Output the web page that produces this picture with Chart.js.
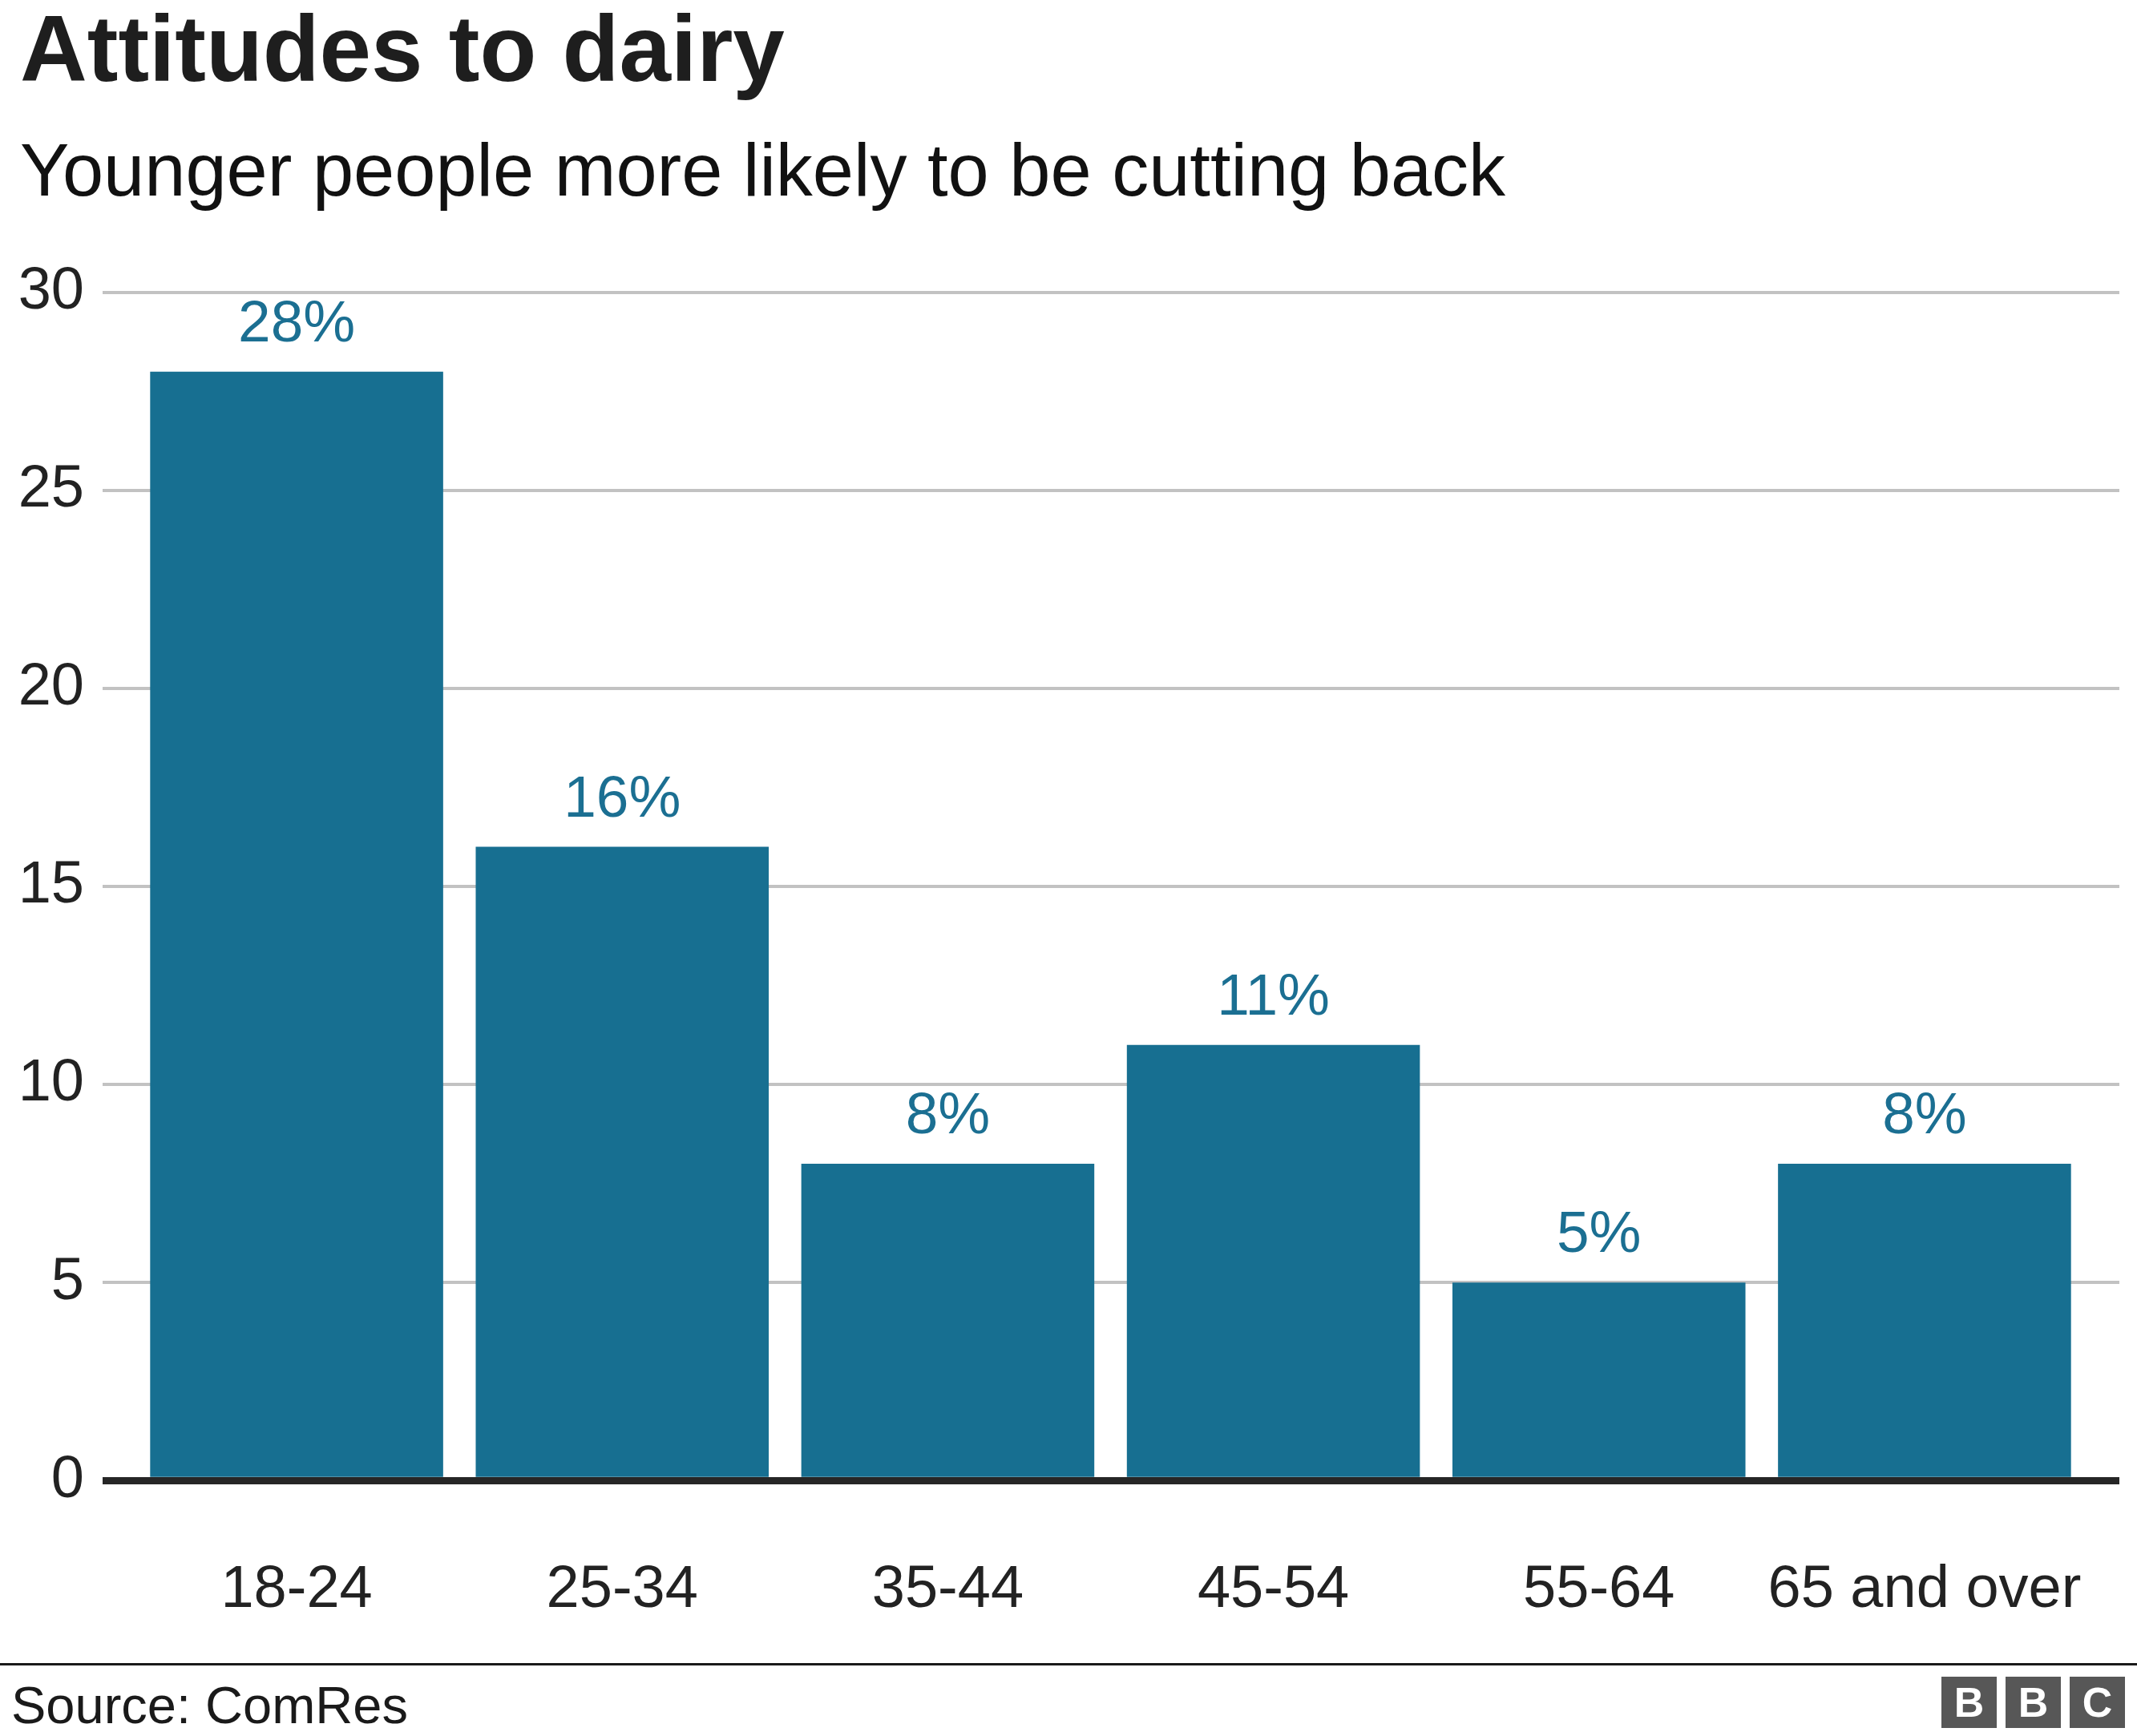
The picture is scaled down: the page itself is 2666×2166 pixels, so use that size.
<!DOCTYPE html>
<html>
<head>
<meta charset="utf-8">
<script src="https://cdn.jsdelivr.net/npm/chart.js@4.4.1/dist/chart.umd.min.js"></script>
<style>
  html, body { margin: 0; padding: 0; background: #ffffff; }
  #wrap { position: relative; width: 2666px; height: 2166px; overflow: hidden; }
  #wrap canvas { position: absolute; left: 0; top: 0; }
  #rule { position: absolute; left: 0; top: 2075px; width: 2666px; height: 3px; background: #1a1a1a; }
  #source { position: absolute; left: 14px; top: 2095px; font-family: "Liberation Sans", Arial, sans-serif; font-size: 65px; line-height: 1; color: #1a1a1a; white-space: nowrap; }
  .bbc { position: absolute; top: 2092px; width: 69px; height: 64px; background: #575757; color: #ffffff;
         font-family: "Liberation Sans", Arial, sans-serif; font-weight: bold; font-size: 52px; line-height: 64px; text-align: center; }
</style>
</head>
<body>
<div id="wrap">
  <canvas id="chart" width="2666" height="2166"></canvas>
  <div id="rule"></div>
  <div id="source">Source: ComRes</div>
  <div class="bbc" style="left:2422px">B</div>
  <div class="bbc" style="left:2502px">B</div>
  <div class="bbc" style="left:2582px">C</div>
</div>
<script>
const titleText = 'Attitudes to dairy';
const subtitleText = 'Younger people more likely to be cutting back';
const categories = ['18-24', '25-34', '35-44', '45-54', '55-64', '65 and over'];
const values = [28, 16, 8, 11, 5, 8];
const valueLabels = ['28%', '16%', '8%', '11%', '5%', '8%'];
const yMin = 0;
const yMax = 30;
const yStep = 5;

const FONT = '"Liberation Sans", Arial, Helvetica, sans-serif';
const BAR = '#176f91';
const GRID = '#c2c2c2';
const AXIS = '#262626';

const gridColor = (c) => (c.tick && c.tick.value === 0 ? AXIS : GRID);
const gridWidth = (c) => (c.tick && c.tick.value === 0 ? 9 : 4);

const valueLabelPlugin = {
  id: 'valueLabels',
  afterDatasetsDraw(chart) {
    const ctx = chart.ctx;
    const meta = chart.getDatasetMeta(0);
    ctx.save();
    ctx.font = '73px ' + FONT;
    ctx.fillStyle = '#1b6f92';
    ctx.textAlign = 'center';
    ctx.textBaseline = 'alphabetic';
    meta.data.forEach((bar, i) => {
      ctx.fillText(valueLabels[i], bar.x, bar.y - 38);
    });
    ctx.restore();
  }
};

new Chart(document.getElementById('chart'), {
  type: 'bar',
  data: {
    labels: categories,
    datasets: [{
      data: values,
      backgroundColor: BAR,
      borderWidth: 0,
      barPercentage: 0.9,
      categoryPercentage: 1.0,
      yAxisID: 'y'
    }]
  },
  options: {
    responsive: false,
    animation: false,
    devicePixelRatio: 1,
    layout: { padding: { left: 25, right: 22, top: 0, bottom: 137 } },
    plugins: {
      legend: { display: false },
      tooltip: { enabled: false },
      title: {
        display: true,
        text: titleText,
        align: 'start',
        color: '#1e1e1e',
        font: { family: FONT, size: 116, weight: 'bold', lineHeight: 1.15 },
        padding: { top: 2, bottom: 28 }
      },
      subtitle: {
        display: true,
        text: subtitleText,
        align: 'start',
        color: '#111111',
        font: { family: FONT, size: 92, weight: 'normal', lineHeight: 1.2 },
        padding: { top: 0, bottom: 91 }
      }
    },
    scales: {
      x: {
        z: 1,
        grid: { display: true, drawOnChartArea: false, drawTicks: true, tickLength: 93, color: 'rgba(0,0,0,0)' },
        border: { display: true, color: AXIS, width: 9 },
        ticks: { color: '#222222', font: { family: FONT, size: 74 }, padding: 0, maxRotation: 0, autoSkip: false }
      },
      y: {
        position: 'left',
        min: yMin,
        max: yMax,
        grid: { color: gridColor, lineWidth: gridWidth, tickLength: 39, drawTicks: true },
        border: { display: false },
        ticks: { stepSize: yStep, color: '#222222', font: { family: FONT, size: 74 }, padding: 23 },
        afterFit: (s) => { s.width = 142; }
      },
      y2: {
        position: 'right',
        min: yMin,
        max: yMax,
        grid: { drawOnChartArea: false, color: gridColor, lineWidth: gridWidth, tickLength: 40, drawTicks: true },
        border: { display: false },
        ticks: { display: false, stepSize: yStep },
        afterFit: (s) => { s.width = 40; }
      }
    }
  },
  plugins: [valueLabelPlugin]
});
</script>
</body>
</html>
